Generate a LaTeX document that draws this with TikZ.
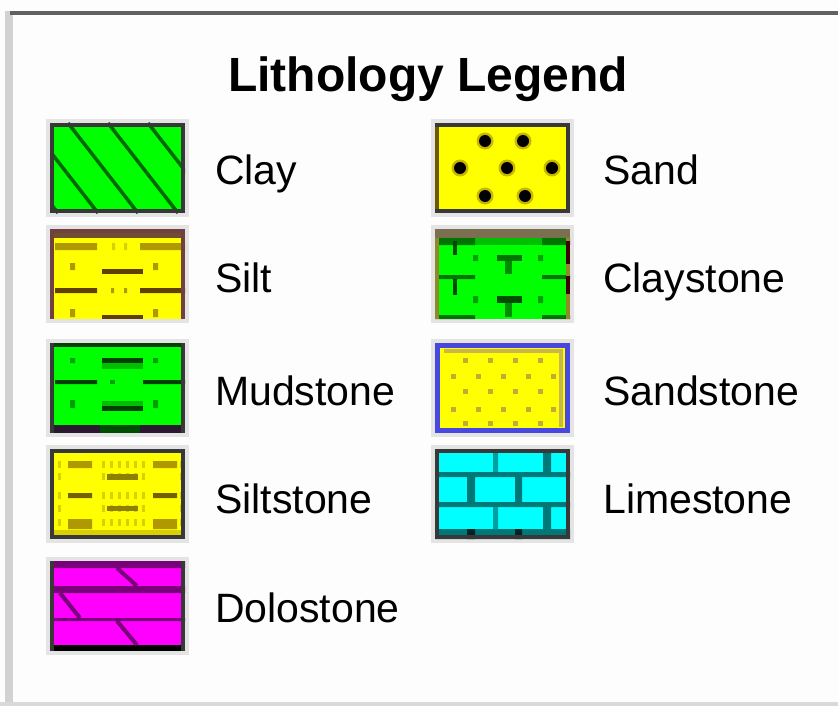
\documentclass[tikz,border=0pt]{standalone}
\usepackage{fontspec}
\setmainfont{Liberation Sans}
\definecolor{cgreen}{HTML}{00FF00}
\definecolor{cdkg}{HTML}{004000}
\definecolor{cmidg}{HTML}{00A000}
\definecolor{cclayln}{HTML}{006800}
\definecolor{cyel}{HTML}{FFFF00}
\definecolor{colive}{HTML}{B09800}
\definecolor{cltol}{HTML}{D8D000}
\definecolor{cdkol}{HTML}{706000}
\definecolor{cbrown}{HTML}{6E5030}
\definecolor{cdkbrown}{HTML}{604000}
\definecolor{cpurp}{HTML}{2A1830}
\definecolor{cmag}{HTML}{FF00FF}
\definecolor{cdmag}{HTML}{780078}
\definecolor{ccyan}{HTML}{00FFFF}
\definecolor{cteal}{HTML}{007878}
\definecolor{cblue}{HTML}{4848E0}
\definecolor{cbord}{HTML}{383838}
\definecolor{cshadow}{HTML}{E4E4E4}
\definecolor{cpanel}{HTML}{FDFDFD}
\definecolor{ctopgray}{HTML}{7A7050}
\tikzset{
  swatch/.style={anchor=north west, minimum width=135pt, minimum height=90pt, inner sep=0pt, outer sep=0pt, fill=#1},
  lab/.style={anchor=base west, inner sep=0pt, font=\fontsize{41}{48}\selectfont},
  ttl/.style={anchor=base, inner sep=0pt, font=\bfseries\fontsize{48}{56}\selectfont},
  bord/.style={draw=#1, line width=4pt},
  shad/.style={fill=cshadow}
}
\begin{document}
\begin{tikzpicture}[x=1pt,y=-1pt]
\useasboundingbox (0,0) rectangle (838,706);
\fill[cpanel] (0,0) rectangle (838,706);
\fill[gray!35] (5,11) rectangle (13,706);
\fill[black!62] (10,11) rectangle (838,15);
\fill[gray!30] (0,702) rectangle (838,706);

\node[ttl] (title) at (428,92) {Lithology Legend};

% ---- Clay
\begin{scope}[shift={(50,123)}]
  \fill[shad] (-4,-4) rectangle (139,94);
  \node[swatch=cgreen] (clay) at (0,0) {};
  \begin{scope}
    \clip (0,0) rectangle (135,90);
    \foreach \s in {-62,-22,18,58,98} \draw[line width=3.5pt, draw=cclayln] (\s,0) -- ++(70,90);
  \end{scope}
  \draw[bord=cbord] (2,2) rectangle (133,88);
\end{scope}
\node[lab] (lclay) at (215,185) {Clay};

% ---- Silt
\begin{scope}[shift={(50,229)}]
  \fill[shad] (-4,-4) rectangle (139,94);
  \node[swatch=cyel] (silt) at (0,0) {};
  \fill[cbrown] (0,0) rectangle (135,9);
  \fill[colive] (5,14) rectangle (47,21) (90,14) rectangle (135,21);
  \fill[cltol] (62,14) rectangle (65,21) (74,14) rectangle (77,21);
  \fill[colive] (20,34) rectangle (25,41) (103,34) rectangle (108,41);
  \fill[cdkbrown] (52,40) rectangle (93,45);
  \fill[cdkbrown] (5,59) rectangle (47,64) (90,59) rectangle (135,64);
  \fill[colive] (61,59) rectangle (64,64) (74,59) rectangle (77,64);
  \fill[colive] (20,80) rectangle (25,88) (103,80) rectangle (108,88);
  \fill[cdkbrown] (52,86) rectangle (93,90);
  \draw[bord=cbrown!80!violet] (2,90) -- (2,2) -- (133,2) -- (133,90);
\end{scope}
\node[lab] (lsilt) at (215,292) {Silt};

% ---- Mudstone
\begin{scope}[shift={(50,343)}]
  \fill[shad] (-4,-4) rectangle (139,94);
  \node[swatch=cgreen] (mud) at (0,0) {};
  \fill[cdkg] (52,15) rectangle (93,20);
  \fill[green!75!black] (52,20) rectangle (93,26);
  \fill[cmidg] (20,15) rectangle (25,20) (103,15) rectangle (108,20);
  \fill[cdkg] (5,37) rectangle (47,41) (93,37) rectangle (135,41);
  \fill[cmidg] (60,37) rectangle (65,41);
  \fill[green!75!black] (52,58) rectangle (93,63);
  \fill[cdkg] (52,63) rectangle (93,68);
  \fill[cmidg] (20,57) rectangle (25,65) (103,57) rectangle (108,65);
  \fill[cpurp] (0,82) rectangle (135,90);
  \fill[green!30!black] (50,82) rectangle (90,90);
  \draw[bord=cbord] (2,90) -- (2,2) -- (133,2) -- (133,90);
  \draw[line width=4pt, draw=cdkg] (4,2) -- (131,2);
\end{scope}
\node[lab] (lmud) at (215,405) {Mudstone};

% ---- Siltstone
\begin{scope}[shift={(50,449)}]
  \fill[shad] (-4,-4) rectangle (139,94);
  \node[swatch=cyel] (siltst) at (0,0) {};
  \foreach \y in {12,24,43,56,70} {
    \foreach \x in {8,52,60,68,76,84,92,130} \fill[cltol] (\x,\y) rectangle ++(3,7);
  }
  \fill[colive] (18,12) rectangle (42,19) (103,12) rectangle (127,19);
  \fill[cdkol!80!yellow] (57,25) rectangle (88,31);
  \fill[cdkol] (18,44) rectangle (42,49) (103,44) rectangle (127,49);
  \fill[cdkol!80!yellow] (57,57) rectangle (88,62);
  \fill[colive] (18,70) rectangle (42,80) (103,70) rectangle (127,80);
  \fill[cltol] (0,81) rectangle (135,90);
  \draw[bord=cbord] (2,2) rectangle (133,88);
\end{scope}
\node[lab] (lsiltst) at (215,513) {Siltstone};

% ---- Dolostone
\begin{scope}[shift={(50,561)}]
  \fill[shad] (-4,-4) rectangle (139,94);
  \node[swatch=cmag] (dolo) at (0,0) {};
  \fill[cdmag] (0,0) rectangle (135,7) (0,25) rectangle (135,32) (0,57) rectangle (135,60);
  \fill[black] (0,84) rectangle (135,90);
  \draw[cdmag, line width=4pt] (67,7) -- (87,25) (10,32) -- (30,57) (67,60) -- (87,84);
  \draw[bord=cbord] (2,0) -- (2,90) (133,0) -- (133,90);
\end{scope}
\node[lab] (ldolo) at (215,622) {Dolostone};

% ---- Sand
\begin{scope}[shift={(435,123)}]
  \fill[shad] (-4,-4) rectangle (139,94);
  \node[swatch=cyel] (sand) at (0,0) {};
  \foreach \p in {(50,18),(88,18),(25,45),(72,45),(117,45),(50,73),(90,73)} {
    \fill[colive!70!yellow] \p circle (8.5);
    \fill[black] \p circle (6);
  }
  \draw[bord=cbord] (2,2) rectangle (133,88);
  \draw[line width=4pt, draw=colive!60!black] (2,4) -- (2,86);
\end{scope}
\node[lab] (lsand) at (603,185) {Sand};

% ---- Claystone
\begin{scope}[shift={(435,229)}]
  \fill[shad] (-4,-4) rectangle (139,94);
  \node[swatch=cgreen] (clayst) at (0,0) {};
  \fill[green!75!black] (0,9) rectangle (135,16);
  \fill[green!45!black] (0,9) rectangle (40,16) (107,9) rectangle (135,16);
  \fill[green!30!black] (18,12) rectangle (22,26);
  \fill[green!45!black] (62,26) rectangle (87,32);
  \fill[green!55!black] (70,32) rectangle (77,45);
  \fill[cmidg] (38,26) rectangle (43,32) (103,26) rectangle (108,32);
  \fill[green!45!black] (0,46) rectangle (40,50) (107,46) rectangle (135,50);
  \fill[green!30!black] (18,50) rectangle (22,66);
  \fill[green!30!black] (62,67) rectangle (87,74);
  \fill[green!55!black] (70,74) rectangle (77,88);
  \fill[cmidg] (38,67) rectangle (43,74) (103,67) rectangle (108,74);
  \fill[green!45!black] (0,86) rectangle (40,90) (107,86) rectangle (135,90);
  \fill[ctopgray] (0,0) rectangle (135,9);
  \draw[line width=4pt, draw=olive!70!gray] (2,9) -- (2,90);
  \draw[line width=4pt, draw=olive!70!gray] (133,9) -- (133,90);
  \draw[line width=4pt, draw=red!25!black] (133,12) -- (133,35) (133,47) -- (133,65);
\end{scope}
\node[lab] (lclayst) at (603,292) {Claystone};

% ---- Sandstone
\begin{scope}[shift={(435,343)}]
  \fill[shad] (-4,-4) rectangle (139,94);
  \node[swatch=cyel] (sandst) at (0,0) {};
  \foreach \y in {17,48,80} \foreach \x in {30,55,80,105} \fill[colive!80] (\x-2.5,\y-2.5) rectangle ++(5,5);
  \foreach \y in {33,66} \foreach \x in {18,43,68,93,118} \fill[colive!80] (\x-2.5,\y-2.5) rectangle ++(5,5);
  \draw[line width=4pt, draw=colive!70] (9,8) -- (126,8) -- (126,84);
  \draw[line width=5pt, draw=cblue] (2.5,2.5) rectangle (132.5,87.5);
\end{scope}
\node[lab] (lsandst) at (603,405) {Sandstone};

% ---- Limestone
\begin{scope}[shift={(435,449)}]
  \fill[shad] (-4,-4) rectangle (139,94);
  \node[swatch=ccyan] (lime) at (0,0) {};
  \fill[cteal] (0,23) rectangle (135,28) (0,53) rectangle (135,58) (0,80) rectangle (135,90);
  \fill[cteal!70!cyan] (58,0) rectangle (63,23) (58,58) rectangle (63,80);
  \fill[cteal] (108,0) rectangle (116,23) (108,58) rectangle (116,80);
  \fill[cteal] (32,28) rectangle (40,53) (80,28) rectangle (87,53);
  \fill[black!70!cteal] (32,80) rectangle (40,90) (80,80) rectangle (87,90);
  \draw[bord=cbord] (2,2) rectangle (133,88);
\end{scope}
\node[lab] (llime) at (603,513) {Limestone};
\end{tikzpicture}
\end{document}
